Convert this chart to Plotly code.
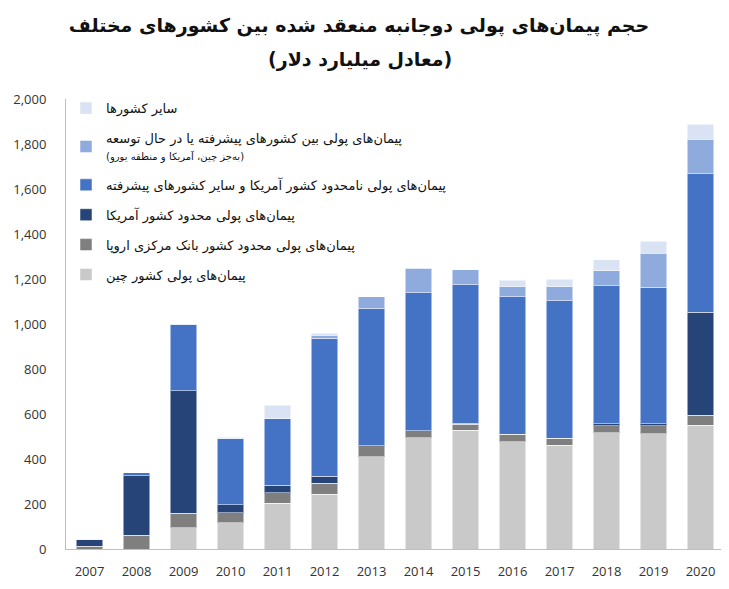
import plotly.graph_objects as go

years = [str(y) for y in range(2007, 2021)]
china = [0, 0, 95, 117, 204, 244, 410, 495, 527, 476, 462, 517, 512, 550]
ecb = [12, 62, 64, 44, 45, 48, 48, 31, 28, 34, 30, 31, 35, 44]
us_limited = [32, 264, 544, 35, 35, 32, 2, 0, 5, 0, 0, 9, 9, 459]
unlimited = [0, 13, 297, 293, 294, 612, 611, 613, 614, 611, 612, 612, 608, 614]
adv_dev = [0, 0, 0, 0, 0, 15, 50, 108, 67, 45, 62, 68, 150, 155]
others = [0, 0, 0, 8, 61, 7, 0, 0, 0, 29, 34, 49, 53, 65]

ZW = "\u200c"
names = [
    "پیمان" + ZW + "های پولی کشور چین",
    "پیمان" + ZW + "های پولی محدود کشور بانک مرکزی اروپا",
    "پیمان" + ZW + "های پولی محدود کشور آمریکا",
    "پیمان" + ZW + "های پولی نامحدود کشور آمریکا و سایر کشورهای پیشرفته",
    "پیمان" + ZW + "های پولی بین کشورهای پیشرفته یا در حال توسعه<br>"
    "<span style='font-size:10px'>(به" + ZW + "جز چین، آمریکا و منطقه یورو)</span>",
    "سایر کشورها",
]
series = [china, ecb, us_limited, unlimited, adv_dev, others]
colors = ["#C9C9C9", "#7F7F7F", "#264478", "#4472C4", "#8FAADC", "#DAE3F3"]

fig = go.Figure()
n = len(series)
for i, (nm, vals, col) in enumerate(zip(names, series, colors)):
    fig.add_trace(go.Bar(
        x=years, y=vals, name=nm, legendgroup=f"g{i}", legendrank=n - i,
        marker=dict(color=col, line=dict(color="rgba(255,255,255,0.5)", width=1)),
    ))

# page body adds an 8px offset, so the figure is 8px smaller than the window
fig.update_layout(
    barmode="stack",
    bargap=0.435,
    width=721, height=581,
    margin=dict(l=54, r=5, t=91, b=40),
    plot_bgcolor="white", paper_bgcolor="white",
    font=dict(family="DejaVu Sans", size=13, color="#222222"),
    title=dict(
        text="<b>حجم پیمان" + ZW + "های پولی دوجانبه منعقد شده بین کشورهای مختلف</b>",
        x=(359 - 8) / 721, xanchor="center", y=1 - 17 / 581, yref="container",
        yanchor="middle",
        font=dict(family="DejaVu Sans", size=19, color="#111111"),
    ),
    annotations=[dict(
        text="<b>(معادل میلیارد دلار)</b>",
        xref="paper", yref="paper", x=(358 - 62) / 662, y=1.0, yanchor="bottom",
        xanchor="center", yshift=26, showarrow=False,
        font=dict(family="DejaVu Sans", size=19, color="#111111"),
    )],
    legend=dict(
        x=0.0, y=1.013, xanchor="left", yanchor="top",
        traceorder="grouped", tracegroupgap=10,
        bgcolor="rgba(0,0,0,0)",
        font=dict(family="DejaVu Sans", size=13, color="#111111"),
    ),
    showlegend=True,
)
fig.update_yaxes(
    range=[0, 2000], dtick=200, tickformat=",d",
    showline=True, linecolor="#BFBFBF", linewidth=1,
    showgrid=False, zeroline=False, ticks="",
    ticklabelstandoff=16,
    tickfont=dict(family="Open Sans", size=13, color="#333333"),
)
fig.update_xaxes(
    showline=True, linecolor="#BFBFBF", linewidth=1,
    showgrid=False, ticks="", ticklabelstandoff=10,
    tickfont=dict(family="Open Sans", size=13, color="#333333"),
)

fig.write_html("out.html")
